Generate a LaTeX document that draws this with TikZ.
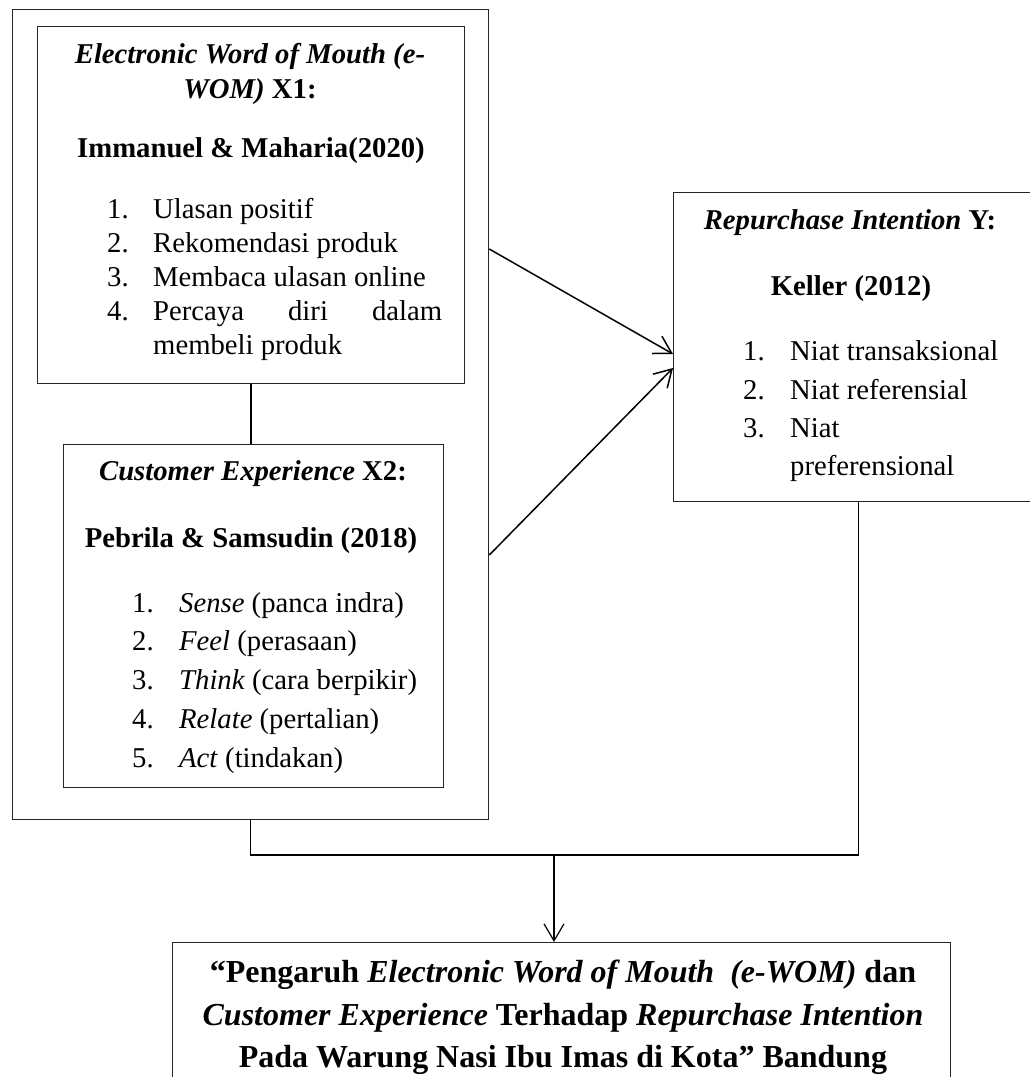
\documentclass[tikz,border=0pt]{standalone}
\usepackage{fontspec}
\setmainfont{Liberation Serif}
\usetikzlibrary{arrows.meta,calc}
\begin{document}
\begin{tikzpicture}[x=1pt,y=-1pt,
  box/.style={draw=black!85,line width=1.3pt,rectangle,inner sep=0pt,anchor=north west},
  conn/.style={line width=1.5pt},
  arr/.style={line width=1.5pt,-{Straight Barb[length=17pt,width=20pt,line width=1.5pt]}},
  txt/.style={inner sep=0pt,font=\fontsize{28.7}{33}\selectfont},
  ttl/.style={txt,anchor=base,font=\fontsize{28.7}{33}\selectfont\bfseries},
  itm/.style={txt,anchor=base west},
  big/.style={inner sep=0pt,anchor=base,font=\fontsize{32}{40}\selectfont\bfseries}]
\useasboundingbox (0,0) rectangle (1029,1077);
% boxes
\node[box,minimum width=476pt,minimum height=810pt] (outer) at (12,9) {};
\node[box,minimum width=427pt,minimum height=357pt] (b1) at (37,26) {};
\node[box,minimum width=380pt,minimum height=343pt] (b2) at (63,444) {};
\node[box,minimum width=370pt,minimum height=309pt] (Y) at (673,192) {};
\node[box,minimum width=778pt,minimum height=160pt] (bot) at (172,942) {};
% box 1 text
\node[ttl] (t1a) at (250,63) {\textit{Electronic Word of Mouth (e-}};
\node[ttl] (t1b) at (250,98) {\textit{WOM)} X1:};
\node[ttl] (t1c) at (251,157) {Immanuel \& Maharia(2020)};
\node[itm] (n11) at (107,218) {1.};
\node[itm] (i11) at (153,218) {Ulasan positif};
\node[itm] (n12) at (107,252) {2.};
\node[itm] (i12) at (153,252) {Rekomendasi produk};
\node[itm] (n13) at (107,286) {3.};
\node[itm] (i13) at (153,286) {Membaca ulasan online};
\node[itm] (n14) at (107,320) {4.};
\node[itm] (i14) at (153,320) {\makebox[289pt][s]{Percaya\hfill diri\hfill dalam}};
\node[itm] (i14b) at (153,354) {membeli produk};
% box 2 text
\node[ttl] (t2a) at (253,480) {\textit{Customer Experience} X2:};
\node[ttl] (t2b) at (251,547) {Pebrila \& Samsudin (2018)};
\node[itm] (n21) at (132,612) {1.};
\node[itm] (i21) at (179,612) {\textit{Sense} (panca indra)};
\node[itm] (n22) at (132,650) {2.};
\node[itm] (i22) at (179,650) {\textit{Feel} (perasaan)};
\node[itm] (n23) at (132,689) {3.};
\node[itm] (i23) at (179,689) {\textit{Think} (cara berpikir)};
\node[itm] (n24) at (132,728) {4.};
\node[itm] (i24) at (179,728) {\textit{Relate} (pertalian)};
\node[itm] (n25) at (132,767) {5.};
\node[itm] (i25) at (179,767) {\textit{Act} (tindakan)};
% Y box text
\node[ttl] (tya) at (850,229) {\textit{Repurchase Intention} Y:};
\node[ttl] (tyb) at (851,295) {Keller (2012)};
\node[itm] (ny1) at (743,360) {1.};
\node[itm] (iy1) at (790,360) {Niat transaksional};
\node[itm] (ny2) at (743,399) {2.};
\node[itm] (iy2) at (790,399) {Niat referensial};
\node[itm] (ny3) at (743,437) {3.};
\node[itm] (iy3) at (790,437) {Niat};
\node[itm] (iy3b) at (790,475) {preferensional};
% bottom box text
\node[big] (bt1) at (563,982) {“Pengaruh \textit{Electronic Word of Mouth}\ \ \textit{(e-WOM)} dan};
\node[big] (bt2) at (563,1025) {\textit{Customer Experience} Terhadap \textit{Repurchase Intention}};
\node[big] (bt3) at (563,1067) {Pada Warung Nasi Ibu Imas di Kota” Bandung};
% connectors
\draw[conn] (b1.south) -- (b1.south |- b2.north);
\draw[arr] (outer.east |- 0,249) -- (Y.west |- 0,354);
\draw[arr] (outer.east |- 0,555) -- (Y.west |- 0,368);
\coordinate (jn) at (554,855);
\draw[conn] (outer.south) -- (outer.south |- jn) -| (Y.south);
\draw[line width=1.2pt,-{Straight Barb[length=17pt,width=20pt,line width=1.2pt]}] (jn) -- (jn |- bot.north);
\end{tikzpicture}
\end{document}
